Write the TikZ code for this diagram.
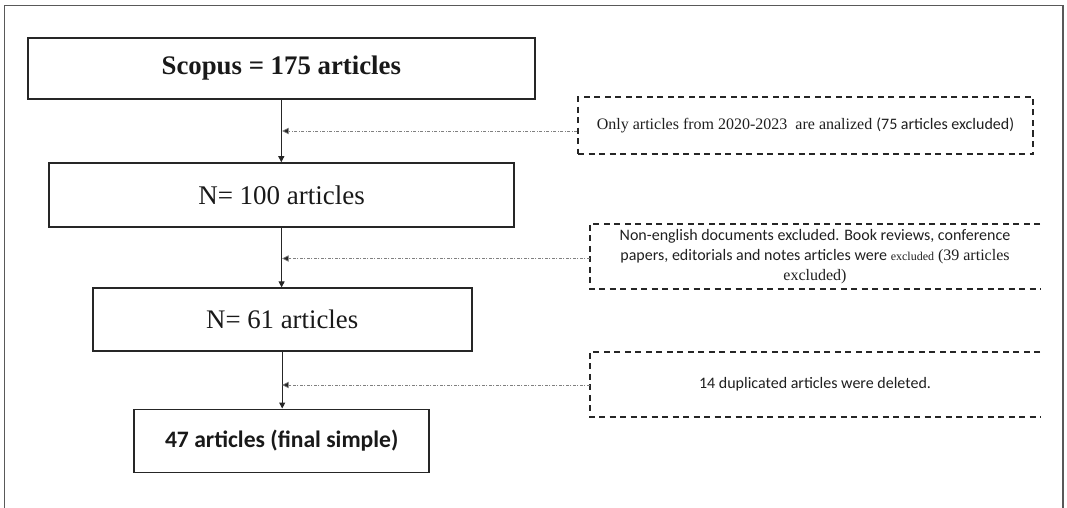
\documentclass[tikz,border=0pt]{standalone}
\usepackage{fontspec}
\setmainfont{Liberation Serif}
\newfontfamily\calfont{Carlito}
\usetikzlibrary{arrows.meta}
\definecolor{linecol}{gray}{0.15}
\definecolor{framecol}{gray}{0.35}
\definecolor{feedcol}{gray}{0.5}
\begin{document}
\begin{tikzpicture}[x=1pt,y=-1pt,
  box/.style={draw=linecol, line width=1.6pt, inner sep=0pt, align=center, text=black!90},
  note/.style={inner sep=0pt, align=center, text=black!88, font=\fontsize{16}{20}\selectfont},
  notebox/.style={draw=linecol, line width=1.7pt, dash pattern=on 6pt off 4.5pt},
  flow/.style={draw=linecol, line width=1pt, -{Triangle[length=6pt,width=6pt]}},
  feed/.style={draw=feedcol, line width=0.7pt, dash pattern=on 3pt off 1.5pt on 1pt off 1.5pt, -{Triangle[length=6.5pt,width=6.5pt,fill=linecol]}}]
\useasboundingbox (0,0) rectangle (1067,508);
\draw[framecol, line width=1.2pt] (4.3,508) -- (4.3,5.2) -- (1063,5.2) -- (1063,508);

% main boxes
\node[box, line width=2.2pt, minimum width=507pt, minimum height=61pt,
  font=\bfseries\fontsize{26.8}{32}\selectfont] (b1) at (281.3,68.5) {Scopus = 175 articles};
\node[box, minimum width=465pt, minimum height=64pt,
  font=\fontsize{27}{32}\selectfont] (b2) at (281.6,195) {N= 100 articles};
\node[box, minimum width=379pt, minimum height=63pt,
  font=\fontsize{26.8}{32}\selectfont] (b3) at (282.2,319.7) {N= 61 articles};
\node[box, minimum width=295pt, minimum height=63pt,
  font=\calfont\bfseries\fontsize{23.6}{28}\selectfont] (b4) at (281.7,440.8) {47 articles (final simple)};

% exclusion notes
\node[note, notebox, minimum width=455pt, minimum height=57pt] (d1) at (805.5,125.5)
  {Only articles from 2020-2023\ \ are analized {\calfont (75 articles excluded)}};
\node[note, minimum width=450pt, minimum height=65pt] (d2) at (815,256.5)
  {{\calfont Non-english documents excluded. Book reviews, conference}\\
   {\calfont papers, editorials and notes articles were }{\fontsize{12}{20}\selectfont excluded} (39 articles\\
   excluded)};
\draw[notebox] (d2.north east) -- (d2.north west) -- (d2.south west) -- (d2.south east);
\node[note, minimum width=450pt, minimum height=65pt] (d3) at (815,384.5)
  {\calfont 14 duplicated articles were deleted.};
\draw[notebox] (d3.north east) -- (d3.north west) -- (d3.south west) -- (d3.south east);

% flow
\draw[flow] (b1.south) -- (b1.south |- b2.north);
\draw[flow] (b2.south) -- (b2.south |- b3.north);
\draw[flow] (b3.south) -- (b3.south |- b4.north);

% feed-in arrows
\coordinate (m1) at (282.2,131);
\coordinate (m2) at (282.2,258.5);
\coordinate (m3) at (282.2,385);
\draw[feed] (d1.west |- m1) -- (m1);
\draw[feed] (d2.west |- m2) -- (m2);
\draw[feed] (d3.west |- m3) -- (m3);
\end{tikzpicture}
\end{document}
